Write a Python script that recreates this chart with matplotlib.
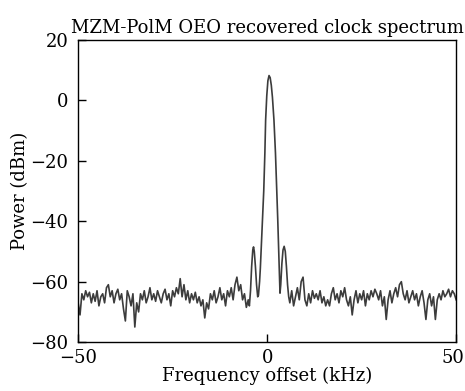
import numpy as np
import matplotlib
matplotlib.use("Agg")
import matplotlib.pyplot as plt
from matplotlib.transforms import ScaledTranslation

# noise floor left of the carrier, -50 .. -5 kHz every 0.5 kHz
left_start, left_step = -50.0, 0.5
left_power = [-67, -71, -64, -66, -63, -65, -63.5, -67, -64, -66.5,
              -63, -68, -65, -64, -67, -62, -61, -65, -63, -67,
              -64, -62.5, -66, -64, -69, -73, -63, -65, -68, -64,
              -75, -67, -70, -64, -66, -63, -67, -65, -62, -66,
              -64, -66.5, -63, -65, -67, -64, -62.5, -66, -64, -68,
              -63, -65, -62, -64, -59, -65, -61, -66, -63, -67,
              -64, -66, -63.5, -67, -65, -68, -66, -72, -67, -69,
              -64, -66, -63, -67, -65, -62, -66, -64, -68, -63,
              -65, -62, -66, -61, -58.5, -63, -61, -66, -64, -68.5,
              -66]

# carrier and sidelobes
mid_freq = [-4.7, -4.4, -4.1, -3.8, -3.6, -3.4, -3.1, -2.8, -2.5, -2.3,
            -2.0, -1.8, -1.5, -1.2, -0.9, -0.6, -0.4, -0.1, 0.2, 0.5,
            0.8, 1.1, 1.4, 1.8, 2.2, 2.5, 2.8, 3.0, 3.2, 3.4,
            3.6, 3.9, 4.2, 4.5, 4.8, 5.1, 5.4, 5.7]
mid_power = [-68, -63, -55, -49.5, -48.5, -50, -55, -61, -65, -64.5,
             -60, -55.6, -47, -39.2, -30, -17.4, -6.5, 1.5, 6.5, 8.2,
             7.5, 5.0, 1.0, -6.5, -17.4, -28, -39.2, -48, -55.6, -63.8,
             -61, -54, -49.5, -48.3, -50, -55, -61, -65]

# noise floor right of the carrier, 6 .. 50 kHz every 0.5 kHz
right_start, right_step = 6.0, 0.5
right_power = [-67, -63, -68, -65, -62, -66, -60, -58.5, -66, -68,
               -64, -67, -63, -65.5, -64, -66, -63, -67, -65, -68,
               -66, -68, -64, -62, -66, -64, -67, -63, -65, -62,
               -66, -68, -65, -71, -66, -63, -67, -64, -66, -63,
               -68, -64, -66, -63, -65, -62.5, -64, -66, -63, -68,
               -65, -72.5, -66, -63, -67, -64, -62, -65, -61, -60,
               -64, -66, -63, -67, -65, -63, -66, -64, -68, -65,
               -63, -67, -72.5, -66, -64, -68, -65, -72.5, -66, -64,
               -66, -63, -65, -64, -62.5, -65, -63, -64, -66]

left_freq = left_start + left_step * np.arange(len(left_power))
right_freq = right_start + right_step * np.arange(len(right_power))
freq = np.concatenate([left_freq, mid_freq, right_freq])
power = np.concatenate([left_power, mid_power, right_power])

plt.rcParams['font.family'] = ['DejaVu Serif']
plt.rcParams['mathtext.fontset'] = 'dejavuserif'

fig = plt.figure(figsize=(4.65, 3.91), dpi=100)
ax = fig.add_axes([0.168, 0.125, 0.813, 0.773])
ax.plot(freq, power, color='#3c3c3c', lw=1.2)

ax.set_xlim(-50, 50)
ax.set_ylim(-80, 20)
ax.set_xticks([-50, 0, 50])
ax.set_yticks([-80, -60, -40, -20, 0, 20])
ax.tick_params(direction='in', length=6, width=1, labelsize=13,
               top=False, right=False)
ax.tick_params(axis='x', pad=5)
ax.tick_params(axis='y', pad=7)
for s in ax.spines.values():
    s.set_linewidth(1.0)

# keep the last x label inside the figure
fig.canvas.draw()
last = ax.get_xticklabels()[-1]
last.set_transform(last.get_transform() + ScaledTranslation(-2/72, 0, fig.dpi_scale_trans))

ax.set_xlabel('Frequency offset (kHz)', fontsize=13, labelpad=0)
ax.set_ylabel('Power (dBm)', fontsize=13, labelpad=1)
ax.set_title('MZM-PolM OEO recovered clock spectrum', fontsize=13, pad=5)

fig.savefig('out.png', dpi=100)
